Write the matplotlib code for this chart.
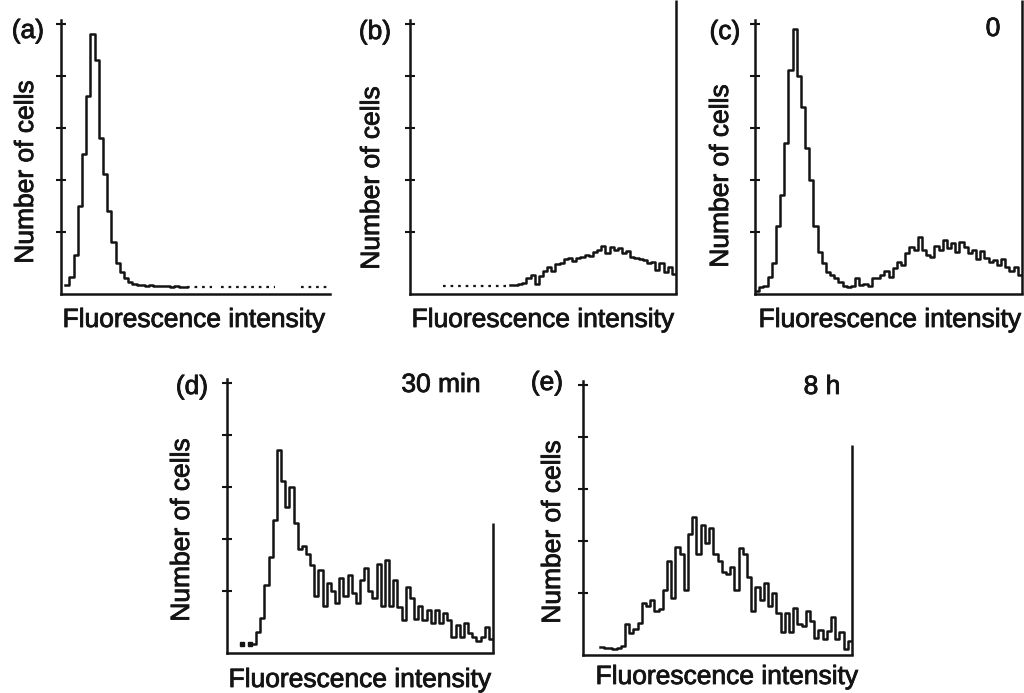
import numpy as np
import matplotlib
matplotlib.use("Agg")
import matplotlib.pyplot as plt
import matplotlib.patheffects as pe

plt.rcParams['font.family'] = ['Liberation Sans', 'DejaVu Sans']

nan = np.nan

# histogram heights, in units of the y-axis tick spacing (64 channels per panel)
a_counts = [nan, 0.17, 0.33, 0.75, 1.7, 2.7, 3.8, 5.0, 4.5, 3.0, 2.3, 1.6, 1.0, 0.6,
            0.42, 0.3, 0.23, 0.2, 0.18, 0.17, 0.16, 0.17, 0.15, 0.16, 0.15, 0.15,
            0.14, 0.15, 0.14, 0.14] + [nan] * 34
a_tail = [nan] * 30 + [0.13] * 6 + [nan] * 2 + [0.13] * 13 + [nan] * 6 + [0.13] * 7

b_counts = [nan] * 24 + [0.17, 0.18, 0.2, 0.22, 0.3, 0.36, 0.2, 0.35, 0.45, 0.52,
                         0.44, 0.58, 0.6, 0.68, 0.7, 0.64, 0.7, 0.72, 0.75, 0.73,
                         0.8, 0.85, 0.92, 0.78, 0.9, 0.84, 0.88, 0.78, 0.82, 0.72,
                         0.7, 0.67, 0.66, 0.6, 0.62, 0.47, 0.6, 0.42, 0.52, 0.38]
b_tail = [nan] * 8 + [0.15] * 15 + [nan] * 41
b_overflow = 5.66

c_counts = [0.05, 0.14, 0.16, 0.33, 0.6, 1.3, 1.9, 2.9, 4.3, 5.1, 4.2, 3.6, 2.8, 2.2,
            1.3, 0.8, 0.6, 0.42, 0.36, 0.3, 0.24, 0.15, 0.14, 0.16, 0.3, 0.17, 0.2,
            0.16, 0.3, 0.3, 0.36, 0.45, 0.33, 0.5, 0.62, 0.55, 0.78, 0.9, 0.85, 1.1,
            0.85, 0.75, 0.72, 0.92, 0.85, 1.04, 0.88, 0.98, 0.8, 1.0, 0.9, 0.78, 0.85,
            0.68, 0.82, 0.7, 0.62, 0.66, 0.55, 0.68, 0.52, 0.45, 0.52, 0.36]
c_overflow = 5.66

d_counts = [nan] * 6 + [0.17, 0.4, 0.68, 1.3, 1.85, 2.55, 3.9, 3.3, 2.8, 3.2, 2.5, 2.0,
                        2.05, 1.9, 1.7, 1.1, 1.6, 0.9, 1.35, 1.2, 0.96, 1.45, 1.1, 1.5,
                        1.15, 0.96, 1.4, 1.63, 1.2, 1.05, 1.72, 0.9, 1.79, 0.9, 1.4,
                        0.89, 0.63, 1.27, 1.05, 0.65, 0.9, 0.63, 0.82, 0.57, 0.82, 0.57,
                        0.76, 0.63, 0.3, 0.54, 0.3, 0.57, 0.38, 0.3, 0.24, 0.3, 0.5, 0.26]
d_dots = [nan] * 3 + [0.17, nan, 0.17] + [nan] * 58
d_overflow = 2.5

e_counts = [nan] * 4 + [0.15, 0.14, 0.13, 0.12, 0.13, 0.17, 0.6, 0.42, 0.5, 0.62, 1.0,
                        0.95, 1.06, 0.85, 0.88, 1.25, 1.8, 1.1, 2.08, 1.95, 1.25, 2.33,
                        2.66, 1.95, 2.5, 2.15, 2.45, 1.95, 1.8, 1.6, 1.55, 1.7, 1.25,
                        2.05, 1.95, 1.5, 0.85, 1.3, 1.06, 1.38, 0.95, 1.2, 0.8, 0.45,
                        0.8, 0.45, 0.9, 0.6, 0.55, 0.85, 0.65, 0.32, 0.48, 0.3, 0.46,
                        0.74, 0.3, 0.45, 0.12, 0.26]
e_overflow = 4.04

y_ticks = [1.2, 2.2, 3.2, 4.2, 5.2]
panel_tags = ['(a)', '(b)', '(c)', '(d)', '(e)']
time_labels = {'c': '0', 'd': '30 min', 'e': '8 h'}

W, H = 1024, 693
ink = '#141414'
fs = 19
lw = 1.8
# scanned print looks a little heavier than the regular face
heavy = [pe.withStroke(linewidth=0.6, foreground=ink)]

fig = plt.figure(figsize=(W / 100, H / 100), dpi=100)


def fx(px):
    return px / W


def fy(py):
    return 1 - py / H


def label(px, py, s, **kw):
    fig.text(fx(px), fy(py), s, fontsize=fs, ha='center', va='center', color=ink,
             path_effects=heavy, **kw)


def make_axes(x0, x1, ytop, ybot):
    ax = fig.add_axes([fx(x0), fy(ybot), (x1 - x0) / W, (ybot - ytop) / H])
    for s in ['top', 'right']:
        ax.spines[s].set_visible(False)
    for s in ['left', 'bottom']:
        ax.spines[s].set_linewidth(lw)
        ax.spines[s].set_color(ink)
    ax.set_yticks(y_ticks)
    ax.set_yticklabels([])
    ax.set_xticks([])
    ax.tick_params(axis='y', direction='inout', length=7, width=1.5, color=ink)
    ax.set_ylim(0, 5.27)
    ax.patch.set_alpha(0)
    return ax


def draw_hist(ax, counts, tail=None, overflow=None, dots=None):
    counts = np.array(counts, dtype=float)
    n = len(counts)
    edges = np.arange(n + 1)
    ax.step(edges, np.append(counts, counts[-1]), where='post', color=ink, lw=lw)
    if tail is not None:
        t = np.array(tail, dtype=float)
        ax.step(edges, np.append(t, t[-1]), where='post', color=ink, lw=1.6,
                ls=(0, (1.2, 2.2)))
    if dots is not None:
        ax.plot(edges[:-1] + 0.5, dots, 's', color=ink, ms=2.5)
    if overflow is not None:
        ax.vlines(n, 0, overflow, color=ink, lw=lw, clip_on=False)
    ax.set_xlim(0, n)


ax_a = make_axes(61, 330, 20, 294)
draw_hist(ax_a, a_counts, tail=a_tail)
ax_b = make_axes(410, 676, 20, 294)
draw_hist(ax_b, b_counts, tail=b_tail, overflow=b_overflow)
ax_c = make_axes(755, 1022, 20, 294)
draw_hist(ax_c, c_counts, overflow=c_overflow)
ax_d = make_axes(227, 493, 379, 653)
draw_hist(ax_d, d_counts, overflow=d_overflow, dots=d_dots)
ax_e = make_axes(583, 852, 381, 655)
draw_hist(ax_e, e_counts, overflow=e_overflow)

# panel tags
for tag, (px, py) in zip(panel_tags, [(28, 31), (375, 32), (725, 32), (192, 387), (547, 383)]):
    label(px, py, tag)

# time labels
label(993, 29, time_labels['c'])
label(441, 385, time_labels['d'])
label(822, 387, time_labels['e'])

# axis labels
for px, py in [(26, 172), (372, 178), (721, 176), (182, 530), (553, 532)]:
    label(px, py, 'Number of cells', rotation=90)
for px, py in [(194, 320), (543, 320), (890, 320), (360, 680), (727, 677)]:
    label(px, py, 'Fluorescence intensity')

fig.savefig('out.png', dpi=100)
